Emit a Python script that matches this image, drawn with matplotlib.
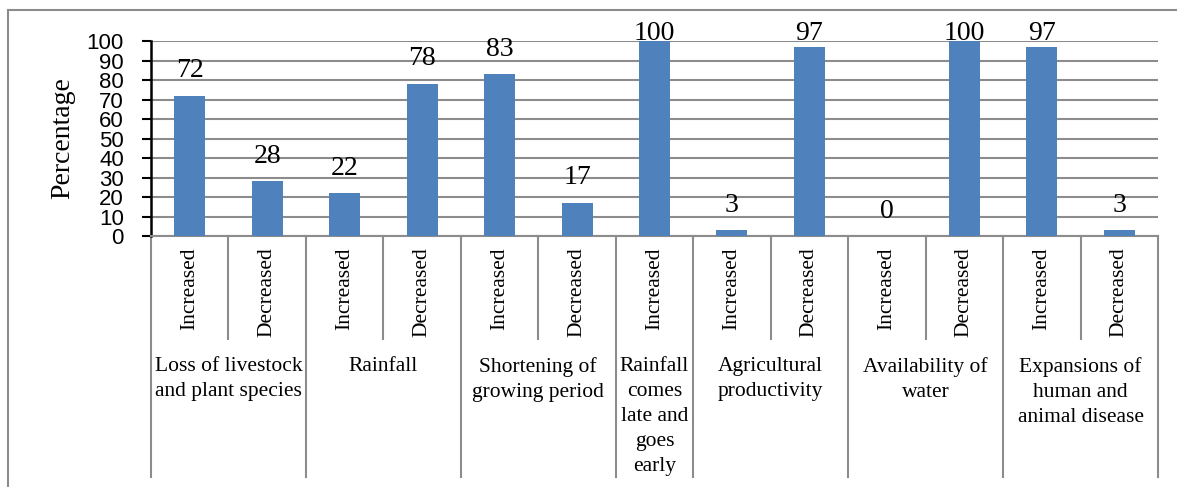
import matplotlib
matplotlib.use("Agg")
import matplotlib.pyplot as plt
from matplotlib.lines import Line2D
from matplotlib.transforms import blended_transform_factory

# Survey responses (percentage of respondents)
sub_labels = ["Increased", "Decreased", "Increased", "Decreased", "Increased",
              "Decreased", "Increased", "Increased", "Decreased", "Increased",
              "Decreased", "Increased", "Decreased"]
values = [72, 28, 22, 78, 83, 17, 100, 3, 97, 0, 100, 97, 3]
group_labels = ["Loss of livestock\nand plant species", "Rainfall",
                "Shortening of\ngrowing period",
                "Rainfall\ncomes\nlate and\ngoes\nearly",
                "Agricultural\nproductivity", "Availability of\nwater",
                "Expansions of\nhuman and\nanimal disease"]
group_sizes = [2, 2, 2, 1, 2, 2, 2]
y_ticks = list(range(0, 101, 10))

BAR = "#4F81BD"
GRID = "#8C8C8C"
SERIF = "Liberation Serif"

fig = plt.figure(figsize=(11.77, 4.87), dpi=100)
W, H = 1177, 487
ax_l, ax_r, ax_t, ax_b = 151, 1158, 41, 236
ax = fig.add_axes([ax_l / W, 1 - ax_b / H, (ax_r - ax_l) / W, (ax_b - ax_t) / H])

x = list(range(len(values)))
ax.bar(x, values, width=0.4, color=BAR, zorder=3)
ax.set_xlim(-0.5, len(values) - 0.5)
ax.set_ylim(0, 100)
ax.set_yticks(y_ticks)
ax.set_yticklabels([str(t) for t in y_ticks], fontfamily="Liberation Sans",
                   fontsize=16)
ax.tick_params(axis="y", direction="out", length=6.5, width=1.5, pad=13,
               color="black")
ax.set_xticks([])
ax.yaxis.grid(True, color=GRID, linewidth=1.5, zorder=0)
ax.set_axisbelow(True)
for s in ("top", "right"):
    ax.spines[s].set_visible(False)
ax.spines["left"].set_linewidth(1.8)
ax.spines["left"].set_color("black")
ax.spines["bottom"].set_color(GRID)
ax.spines["bottom"].set_linewidth(1.5)
ax.set_ylabel("Percentage", fontfamily=SERIF, fontsize=20, labelpad=8)

# Value labels above the bars, kept inside the chart area
for xi, v in zip(x, values):
    ax.annotate(str(v), xy=(xi, min(v, 91)), xytext=(0, 13.3),
                textcoords="offset points", ha="center", va="baseline",
                fontfamily=SERIF, fontsize=20, annotation_clip=False)

# Two-level category axis
tr = blended_transform_factory(ax.transData, ax.transAxes)
ph = ax_b - ax_t
y_inner = -(339 - ax_b) / ph
y_outer = -(477 - ax_b) / ph

for xi, lab in zip(x, sub_labels):
    ax.text(xi, -(247 - ax_b) / ph, lab, rotation=90, ha="center", va="top",
            fontfamily=SERIF, fontsize=15.5, transform=tr)

start = 0
bounds = [-0.5]
for size, lab in zip(group_sizes, group_labels):
    centre = start + (size - 1) / 2
    ax.text(centre, -(357 - ax_b) / ph, lab, ha="center", va="top",
            fontfamily=SERIF, fontsize=15.5, linespacing=1.42, transform=tr)
    for k in range(1, size):
        xb = start + k - 0.5
        ax.add_line(Line2D([xb, xb], [0, y_inner], transform=tr, color=GRID,
                           linewidth=1.5, clip_on=False))
    start += size
    bounds.append(start - 0.5)

for xb in bounds:
    ax.add_line(Line2D([xb, xb], [0, y_outer], transform=tr, color=GRID,
                       linewidth=1.5, clip_on=False))

# Chart frame
fx, fy = 8 / W, 1 - 10 / H
fig.add_artist(Line2D([fx, fx], [0, fy], transform=fig.transFigure,
                      color=GRID, linewidth=1.5))
fig.add_artist(Line2D([fx, 1], [fy, fy], transform=fig.transFigure,
                      color=GRID, linewidth=1.5))

fig.savefig("out.png", dpi=100)
